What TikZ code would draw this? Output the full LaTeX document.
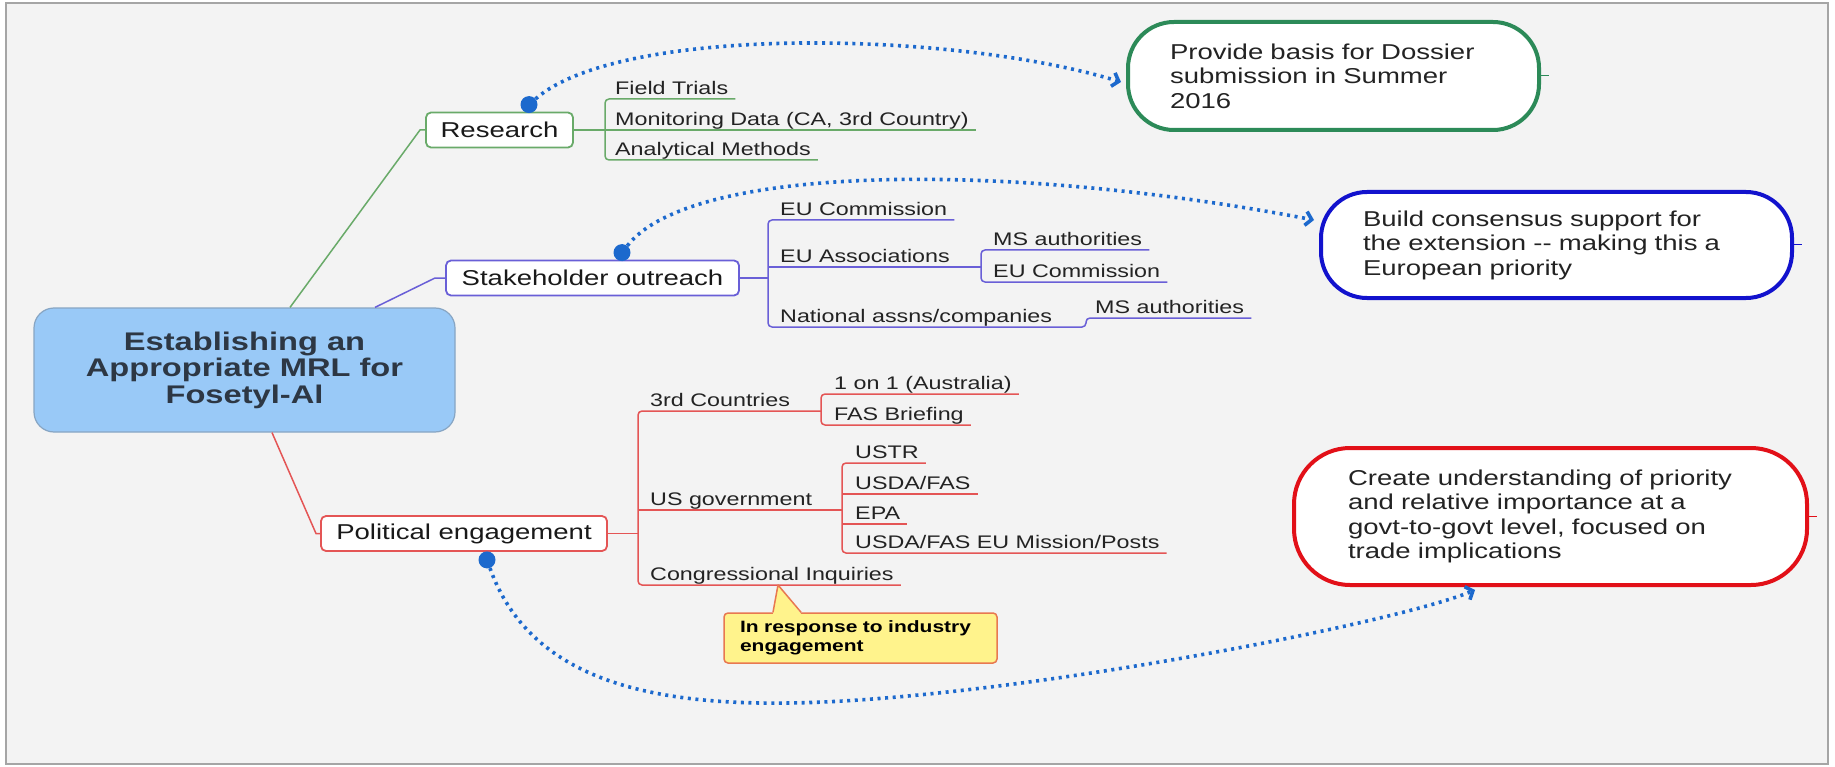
\documentclass[tikz,border=0pt]{standalone}
\usepackage{fontspec}
\setmainfont{Liberation Sans}[FakeStretch=1.28]
\usetikzlibrary{arrows.meta,calc}
\definecolor{bg}{RGB}{243,243,243}
\definecolor{framec}{RGB}{165,165,165}
\definecolor{cgreen}{RGB}{105,170,105}
\definecolor{cpurple}{RGB}{105,95,215}
\definecolor{cred}{RGB}{228,85,85}
\definecolor{gGreen}{RGB}{44,138,88}
\definecolor{gBlue}{RGB}{18,18,205}
\definecolor{gRed}{RGB}{226,16,24}
\definecolor{rootfill}{RGB}{153,201,247}
\definecolor{rootdraw}{RGB}{135,165,195}
\definecolor{roottext}{RGB}{45,55,68}
\definecolor{dotblue}{RGB}{28,105,205}
\definecolor{callfill}{RGB}{255,243,140}
\definecolor{calldraw}{RGB}{232,120,80}
\definecolor{txt}{RGB}{35,35,35}
\begin{document}
\begin{tikzpicture}[x=1pt,y=-1pt,
  rootbox/.style={draw=rootdraw, fill=rootfill, line width=1.2pt, rounded corners=20pt,
    minimum width=421pt, minimum height=124pt, align=center, text=roottext,
    font=\fontsize{25.5}{26.5}\selectfont\bfseries},
  branch/.style={draw=#1, fill=white, line width=1.8pt, rounded corners=5pt,
    minimum height=35pt, inner xsep=0pt, text=black!90, font=\fontsize{21.5}{25}\selectfont},
  leaf/.style={anchor=south west, inner xsep=7pt, inner ysep=0pt, text depth=4pt,
    text=txt, font=\fontsize{18.2}{20}\selectfont},
  goal/.style={draw=#1, fill=white, line width=4pt, align=left, text=txt,
    font=\fontsize{21.5}{24.5}\selectfont},
  link/.style={draw=#1, line width=1.5pt},
  brk/.style={draw=#1, line width=1.5pt, rounded corners=4pt},
  dotlink/.style={draw=dotblue, line width=3.6pt, dash pattern=on 3pt off 4.6pt,
    -{Straight Barb[length=6pt,width=14pt]}},
  anchordot/.style={circle, fill=dotblue, inner sep=0pt, minimum size=17pt},
  callout/.style={draw=calldraw, fill=callfill, line width=1.5pt, rounded corners=4pt,
    inner xsep=16pt, text width=241pt, minimum height=50pt, align=left, text=black,
    font=\fontsize{16.4}{19}\selectfont\bfseries}
]
\useasboundingbox (0,0) rectangle (1835,767);
\fill[white] (0,0) rectangle (1835,767);
\draw[framec, fill=bg, line width=1.5pt] (6,3) rectangle (1828,764);

% root and branches
\node[rootbox] (root) at (244.5,370) {Establishing an\\Appropriate MRL for\\Fosetyl-Al};
\node[branch=cgreen, minimum width=147pt] (research) at (499.5,130) {Research};
\node[branch=cpurple, minimum width=293pt] (stake) at (592.5,278) {Stakeholder outreach};
\node[branch=cred, minimum width=286pt] (political) at (464,533.5) {Political engagement};

\draw[link=cgreen] ([xshift=45.5pt]root.north) -- (420,130) -- (research.west);
\draw[link=cpurple] ([xshift=130.5pt]root.north) -- (435,278) -- (stake.west);
\draw[link=cred] ([xshift=27.5pt]root.south) -- (316,533.5) -- (political.west);

% bracket x positions
\coordinate (rb) at (605,0);
\coordinate (sb) at (768,0);
\coordinate (sb2) at (981,0);
\coordinate (sb3) at (1086,0);
\coordinate (pb) at (638,0);
\coordinate (pb2) at (821,0);
\coordinate (pb3) at (842,0);
\coordinate (tipx) at (778,0);

% research leaves
\node[leaf] (FT) at (608,99) {Field Trials};
\node[leaf] (MD) at (608,130) {Monitoring Data (CA, 3rd Country)};
\node[leaf] (AM) at (608,160) {Analytical Methods};
\draw[brk=cgreen] (FT.south east) -- (rb |- FT.south) -- (rb |- AM.south) -- (AM.south east);
\draw[link=cgreen] (research.east) -- (MD.south east);

% stakeholder leaves
\node[leaf] (EC1) at (773,220) {EU Commission};
\node[leaf] (EA) at (773,267) {EU Associations};
\node[leaf] (NA) at (773,327) {National assns/companies};
\node[leaf] (MS2) at (986,250) {MS authorities};
\node[leaf] (EC2) at (986,282) {EU Commission};
\node[leaf] (MS3) at (1088,318) {MS authorities};
\draw[link=cpurple] (stake.east) -- (sb |- stake.east);
\draw[brk=cpurple] (EC1.south east) -- (sb |- EC1.south) -- (sb |- NA.south) -- (sb3 |- NA.south) -- (sb3 |- MS3.south) -- (MS3.south east);
\draw[link=cpurple] (sb |- EA.south) -- (sb2 |- EA.south);
\draw[brk=cpurple] (MS2.south east) -- (sb2 |- MS2.south) -- (sb2 |- EC2.south) -- (EC2.south east);

% political leaves
\node[leaf] (C3) at (643,411) {3rd Countries};
\node[leaf] (US) at (643,510) {US government};
\node[leaf] (CI) at (643,585) {Congressional Inquiries};
\node[leaf] (A1) at (827,394) {1 on 1 (Australia)};
\node[leaf] (FB) at (827,425) {FAS Briefing};
\node[leaf] (USTR) at (848,463) {USTR};
\node[leaf] (USDA) at (848,494) {USDA/FAS};
\node[leaf] (EPA) at (848,524) {EPA};
\node[leaf] (POSTS) at (848,553) {USDA/FAS EU Mission/Posts};
\draw[link=cred] (political.east) -- (pb |- political.east);
\draw[brk=cred] (pb2 |- C3.south) -- (pb |- C3.south) -- (pb |- CI.south) -- (CI.south east);
\draw[link=cred] (pb |- US.south) -- (pb3 |- US.south);
\draw[brk=cred] (A1.south east) -- (pb2 |- A1.south) -- (pb2 |- FB.south) -- (FB.south east);
\draw[brk=cred] (USTR.south east) -- (pb3 |- USTR.south) -- (pb3 |- POSTS.south) -- (POSTS.south east);
\draw[link=cred] (pb3 |- USDA.south) -- (USDA.south east);
\draw[link=cred] (pb3 |- EPA.south) -- (EPA.south east);

% callout
\node[callout] (note) at (860.5,638) {In response to industry\\engagement};
\fill[callfill] ([xshift=-87.5pt,yshift=-1.5pt]note.north) -- (tipx |- CI.south) -- ([xshift=-59.5pt,yshift=-1.5pt]note.north) -- cycle;
\draw[calldraw, line width=1.5pt, line join=round] ([xshift=-87.5pt]note.north) -- (tipx |- CI.south) -- ([xshift=-59.5pt]note.north);

% goals
\node[goal=gGreen, rounded corners=46pt, inner xsep=42pt, text width=327pt, minimum height=108pt] (g1) at (1333.5,76) {Provide basis for Dossier\\submission in Summer\\2016};
\node[goal=gBlue, rounded corners=46pt, inner xsep=42pt, text width=387pt, minimum height=106pt] (g2) at (1556.5,245) {Build consensus support for\\the extension -{}- making this a\\European priority};
\node[goal=gRed, rounded corners=56pt, inner xsep=54pt, text width=405pt, minimum height=137pt] (g3) at (1550.5,516.5) {Create understanding of priority\\and relative importance at a\\govt-to-govt level, focused on\\trade implications};
\draw[gGreen, line width=1pt] (g1.east) -- ++(8,0);
\draw[gBlue, line width=1pt] (g2.east) -- ++(8,0);
\draw[gRed, line width=1pt] (g3.east) -- ++(8,0);

% relationship links
\node[anchordot] (d1) at ([xshift=29.5pt,yshift=7pt]research.north) {};
\node[anchordot] (d2) at ([xshift=29.5pt,yshift=7pt]stake.north) {};
\node[anchordot] (d3) at ([xshift=23pt,yshift=-8pt]political.south) {};
\draw[dotlink] (d1) .. controls (620,25) and (950,30) .. ([xshift=-5pt,yshift=-6pt]g1.west);
\draw[dotlink] (d2) .. controls (690,165) and (1000,160) .. ([xshift=-5pt,yshift=25pt]g2.west);
\draw[dotlink] (d3) .. controls (530,680) and (650,705) .. (790,703) .. controls (1000,700) and (1390,625) .. ([xshift=-75.5pt,yshift=-3pt]g3.south);
\end{tikzpicture}
\end{document}
